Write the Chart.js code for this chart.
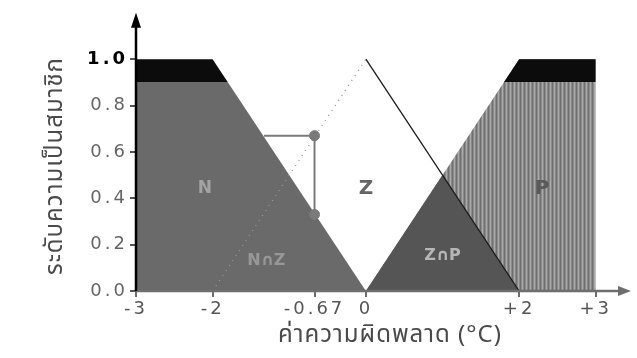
<!DOCTYPE html>
<html>
<head>
<meta charset="utf-8">
<script src="https://cdn.jsdelivr.net/npm/chart.js@4.4.1/dist/chart.umd.min.js"></script>
<style>
  html, body { margin: 0; padding: 0; background: #fff; }
</style>
</head>
<body>
<canvas id="fuzzyChart" width="637" height="358"></canvas>
<script>
// --- data ---
const xTicks = [-3, -2, -0.67, 0, 2, 3];
const xTickLabels = ['-3', '-2', '-0.67', '0', '+2', '+3'];
const yTicks = [0, 0.2, 0.4, 0.6, 0.8, 1.0];

const nX = [-3, -2, 0];       // N membership
const nY = [1, 1, 0];
const zX = [-2, 0, 2];        // Z membership
const zY = [0, 1, 0];
const pX = [0, 2, 3];         // P membership
const pY = [0, 1, 1];
const zpX = [0, 1, 2];        // overlap of Z and P
const zpY = [0, 0.5, 0];

const guideX = [-1.33, -0.67, -0.67];   // error -0.67 read on Z and N
const guideY = [0.67, 0.67, 0.33];
const markX = [-0.67, -0.67];
const markY = [0.67, 0.33];

const bandLevel = 0.9;

const toPts = (xs, ys) => xs.map((x, i) => ({ x: x, y: ys[i] }));

const tickFont = '"DejaVu Sans", "Liberation Sans", sans-serif';
const thaiFont = '"Noto Sans Thai", "Noto Sans Thai UI", Loma, Garuda, "DejaVu Sans", sans-serif';

// stripe texture for P
function makeStripes(base, dark, light) {
  const c = document.createElement('canvas');
  c.width = 4; c.height = 4;
  const g = c.getContext('2d');
  g.fillStyle = base; g.fillRect(0, 0, 4, 4);
  g.fillStyle = dark; g.fillRect(0, 0, 1, 4);
  g.fillStyle = light; g.fillRect(2, 0, 1, 4);
  return document.getElementById('fuzzyChart').getContext('2d').createPattern(c, 'repeat');
}
const pPattern = makeStripes('#8a8a8a', '#707070', '#aaaaaa');

// black top band above bandLevel, 'below' colour under it
function bandGradient(c, below) {
  const chart = c.chart;
  const a = chart.chartArea;
  if (!a) return below;
  const stop = (chart.scales.y.getPixelForValue(bandLevel) - a.top) / (a.bottom - a.top);
  const g = chart.ctx.createLinearGradient(0, a.top, 0, a.bottom);
  g.addColorStop(0, '#0c0c0c');
  g.addColorStop(stop, '#0c0c0c');
  g.addColorStop(stop, below);
  g.addColorStop(1, below);
  return g;
}

// axes with arrows + labels
const decoPlugin = {
  id: 'deco',
  beforeDraw(chart) {
    chart.ctx.letterSpacing = '3px';
  },
  afterDraw(chart) {
    const ctx = chart.ctx;
    const a = chart.chartArea;
    const xs = chart.scales.x, ys = chart.scales.y;
    ctx.save();
    ctx.letterSpacing = '0px';

    // x axis
    ctx.strokeStyle = '#6e6e6e';
    ctx.fillStyle = '#6e6e6e';
    ctx.lineWidth = 2.5;
    ctx.beginPath();
    ctx.moveTo(a.left, a.bottom);
    ctx.lineTo(a.right - 8, a.bottom);
    ctx.stroke();
    ctx.beginPath();
    ctx.moveTo(a.right, a.bottom);
    ctx.lineTo(a.right - 13, a.bottom - 5);
    ctx.lineTo(a.right - 13, a.bottom + 5);
    ctx.closePath();
    ctx.fill();

    // y axis
    ctx.strokeStyle = '#000';
    ctx.fillStyle = '#000';
    ctx.lineWidth = 2.5;
    ctx.beginPath();
    ctx.moveTo(a.left, a.bottom);
    ctx.lineTo(a.left, a.top + 8);
    ctx.stroke();
    ctx.beginPath();
    ctx.moveTo(a.left, a.top);
    ctx.lineTo(a.left - 5, a.top + 15);
    ctx.lineTo(a.left + 5, a.top + 15);
    ctx.closePath();
    ctx.fill();

    // region labels
    const put = (t, x, y, color, size) => {
      ctx.font = 'bold ' + size + 'px ' + tickFont;
      ctx.fillStyle = color;
      ctx.textAlign = 'center';
      ctx.textBaseline = 'middle';
      ctx.fillText(t, xs.getPixelForValue(x), ys.getPixelForValue(y));
    };
    put('N', -2.1, 0.44, 'rgba(220,220,220,0.5)', 17);
    put('N\u2229Z', -1.3, 0.13, 'rgba(220,220,220,0.4)', 16);
    put('Z', 0, 0.44, '#666', 20);
    put('P', 2.3, 0.44, '#5a5a5a', 20);
    put('Z\u2229P', 1.0, 0.15, 'rgba(235,235,235,0.65)', 16);

    // axis titles
    ctx.fillStyle = '#4a4a4a';
    ctx.font = '24px ' + thaiFont;
    ctx.letterSpacing = '1px';
    ctx.textAlign = 'center';
    ctx.textBaseline = 'middle';
    ctx.fillText('ค่าความผิดพลาด (°C)', 390, 337);
    ctx.translate(57, 166);
    ctx.rotate(-Math.PI / 2);
    ctx.fillText('ระดับความเป็นสมาชิก', 0, 0);
    ctx.restore();
  }
};

const chart = new Chart(document.getElementById('fuzzyChart'), {
  type: 'scatter',
  data: {
    datasets: [
      { label: 'guide', data: toPts(guideX, guideY), showLine: true, borderColor: '#7a7a7a',
        borderWidth: 2, pointRadius: 0, fill: false, order: 1 },
      { label: 'marks', data: toPts(markX, markY), showLine: false, pointRadius: 5,
        pointBackgroundColor: '#7a7a7a', pointBorderColor: '#7a7a7a', order: 0 },
      { label: 'Z', data: toPts(zX, zY), showLine: true, pointRadius: 0, fill: false, order: 2,
        borderWidth: 1.3, borderColor: '#000',
        segment: {
          borderDash: c => c.p0DataIndex === 0 ? [1, 5] : undefined,
          borderColor: c => c.p0DataIndex === 0 ? '#9a9a9a' : '#1a1a1a'
        } },
      { label: 'ZP', data: toPts(zpX, zpY), showLine: true, pointRadius: 0, borderWidth: 0,
        fill: 'origin', backgroundColor: '#555555', order: 3 },
      { label: 'N', data: toPts(nX, nY), showLine: true, pointRadius: 0, borderWidth: 0,
        fill: 'origin', backgroundColor: c => bandGradient(c, '#6a6a6a'), order: 4 },
      { label: 'Pband', data: toPts(pX, pY), showLine: true, pointRadius: 0, borderWidth: 0,
        fill: 'origin', backgroundColor: c => bandGradient(c, 'rgba(0,0,0,0)'), order: 5 },
      { label: 'P', data: toPts(pX, pY), showLine: true, pointRadius: 0, borderWidth: 0,
        fill: 'origin', backgroundColor: pPattern, order: 6 }
    ]
  },
  options: {
    responsive: false,
    animation: false,
    devicePixelRatio: 1,
    layout: { padding: { left: 0, top: 12, right: 2, bottom: 0 } },
    plugins: { legend: { display: false }, tooltip: { enabled: false } },
    scales: {
      x: {
        type: 'linear', min: -3, max: 3.46,
        afterBuildTicks: s => { s.ticks = xTicks.map(v => ({ value: v })); },
        afterFit: s => { s.height = 67; },
        border: { display: false },
        grid: { drawOnChartArea: false, tickLength: 6, lineWidth: 2, color: '#6e6e6e' },
        ticks: {
          autoSkip: false, maxRotation: 0, padding: 2,
          color: '#555', font: { size: 18, family: tickFont },
          callback: v => xTickLabels[xTicks.indexOf(v)]
        }
      },
      y: {
        min: 0, max: 1.2,
        afterBuildTicks: s => { s.ticks = yTicks.map(v => ({ value: v })); },
        afterFit: s => { s.width = 136; },
        border: { display: false },
        grid: { drawOnChartArea: false, tickLength: 6, lineWidth: 2, color: '#555' },
        ticks: {
          padding: 2,
          color: c => c.tick.value === 1 ? '#000' : '#666',
          font: c => ({ size: 18, family: tickFont, weight: c.tick && c.tick.value === 1 ? 'bold' : 'normal' }),
          callback: v => v.toFixed(1)
        }
      }
    }
  },
  plugins: [decoPlugin]
});
</script>
</body>
</html>
